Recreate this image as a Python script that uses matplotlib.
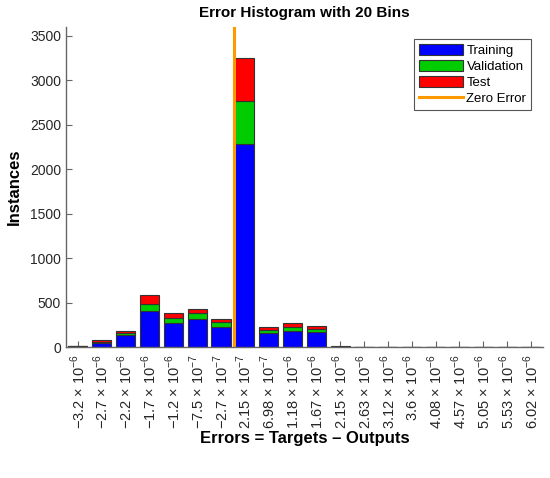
import numpy as np
import matplotlib
matplotlib.use("Agg")
import matplotlib.pyplot as plt

plt.rcParams['font.family'] = ['Liberation Sans', 'DejaVu Sans']
plt.rcParams['mathtext.fontset'] = 'custom'
plt.rcParams['mathtext.rm'] = 'Liberation Sans'

# bin centres (errors) and counts per bin
mantissa = ['-3.2', '-2.7', '-2.2', '-1.7', '-1.2', '-7.5', '-2.7', '2.15', '6.98', '1.18',
            '1.67', '2.15', '2.63', '3.12', '3.6', '4.08', '4.57', '5.05', '5.53', '6.02']
exponent = [-6, -6, -6, -6, -6, -7, -7, -7, -7, -6,
            -6, -6, -6, -6, -6, -6, -6, -6, -6, -6]
training = [6, 50, 135, 405, 267, 315, 222, 2280, 155, 180, 165, 4, 2, 1, 0, 0, 0, 0, 0, 0]
validation = [2, 8, 22, 75, 56, 64, 55, 490, 35, 42, 35, 1, 1, 0, 0, 0, 0, 0, 0, 0]
test = [2, 17, 20, 100, 57, 45, 38, 480, 35, 50, 40, 1, 1, 0, 0, 0, 0, 0, 0, 0]

centers = [float(m) * 10.0 ** e for m, e in zip(mantissa, exponent)]
labels = ['%s × 10$^{−%d}$' % (m.replace('-', '−'), -e)
          for m, e in zip(mantissa, exponent)]

x = np.arange(1, len(centers) + 1)
training = np.array(training)
validation = np.array(validation)
test = np.array(test)

fig = plt.figure(figsize=(5.5, 4.78), dpi=100)
ax = fig.add_axes([0.12, 0.274, 0.867, 0.6695])
ax.set_axisbelow(True)

w = 0.8
ec = '#333333'
h1 = ax.bar(x, training, w, color=(0, 0, 1), edgecolor=ec, linewidth=0.8, label='Training')
h2 = ax.bar(x, validation, w, bottom=training, color=(0, 0.8, 0), edgecolor=ec, linewidth=0.8,
            label='Validation')
h3 = ax.bar(x, test, w, bottom=training + validation, color=(1, 0, 0), edgecolor=ec,
            linewidth=0.8, label='Test')

zero_pos = np.interp(0.0, centers, x)
h4 = ax.axvline(zero_pos, color=(1, 0.6, 0), linewidth=2.2, label='Zero Error')

ax.set_xlim(0.5, len(x) + 0.5)
ax.set_ylim(0, 3600)
ax.set_yticks(np.arange(0, 3501, 500))
ax.set_xticks(x)
ax.set_xticklabels(labels, rotation=90)

ax.spines['top'].set_visible(False)
ax.spines['right'].set_visible(False)
for s in ('left', 'bottom'):
    ax.spines[s].set_color('#666666')
    ax.spines[s].set_linewidth(1.0)
ax.tick_params(axis='both', direction='in', length=4, labelsize=10,
               color='#666666', labelcolor='#262626')
ax.tick_params(axis='x', pad=5, labelsize=10.5)

ax.set_title('Error Histogram with 20 Bins', fontsize=11, fontweight='bold', pad=7)
ax.set_ylabel('Instances', fontsize=12, fontweight='bold', labelpad=6)
ax.set_xlabel('Errors = Targets – Outputs', fontsize=12, fontweight='bold', labelpad=1)

leg = ax.legend([h1, h2, h3, h4], ['Training', 'Validation', 'Test', 'Zero Error'],
                loc='upper right', fontsize=9.5, fancybox=False, edgecolor='#555555',
                handlelength=3.3, handleheight=1.0, borderaxespad=0.9, labelspacing=0.2,
                borderpad=0.35, handletextpad=0.3, framealpha=1)
leg.get_frame().set_linewidth(0.8)

fig.savefig('out.png', dpi=100)
